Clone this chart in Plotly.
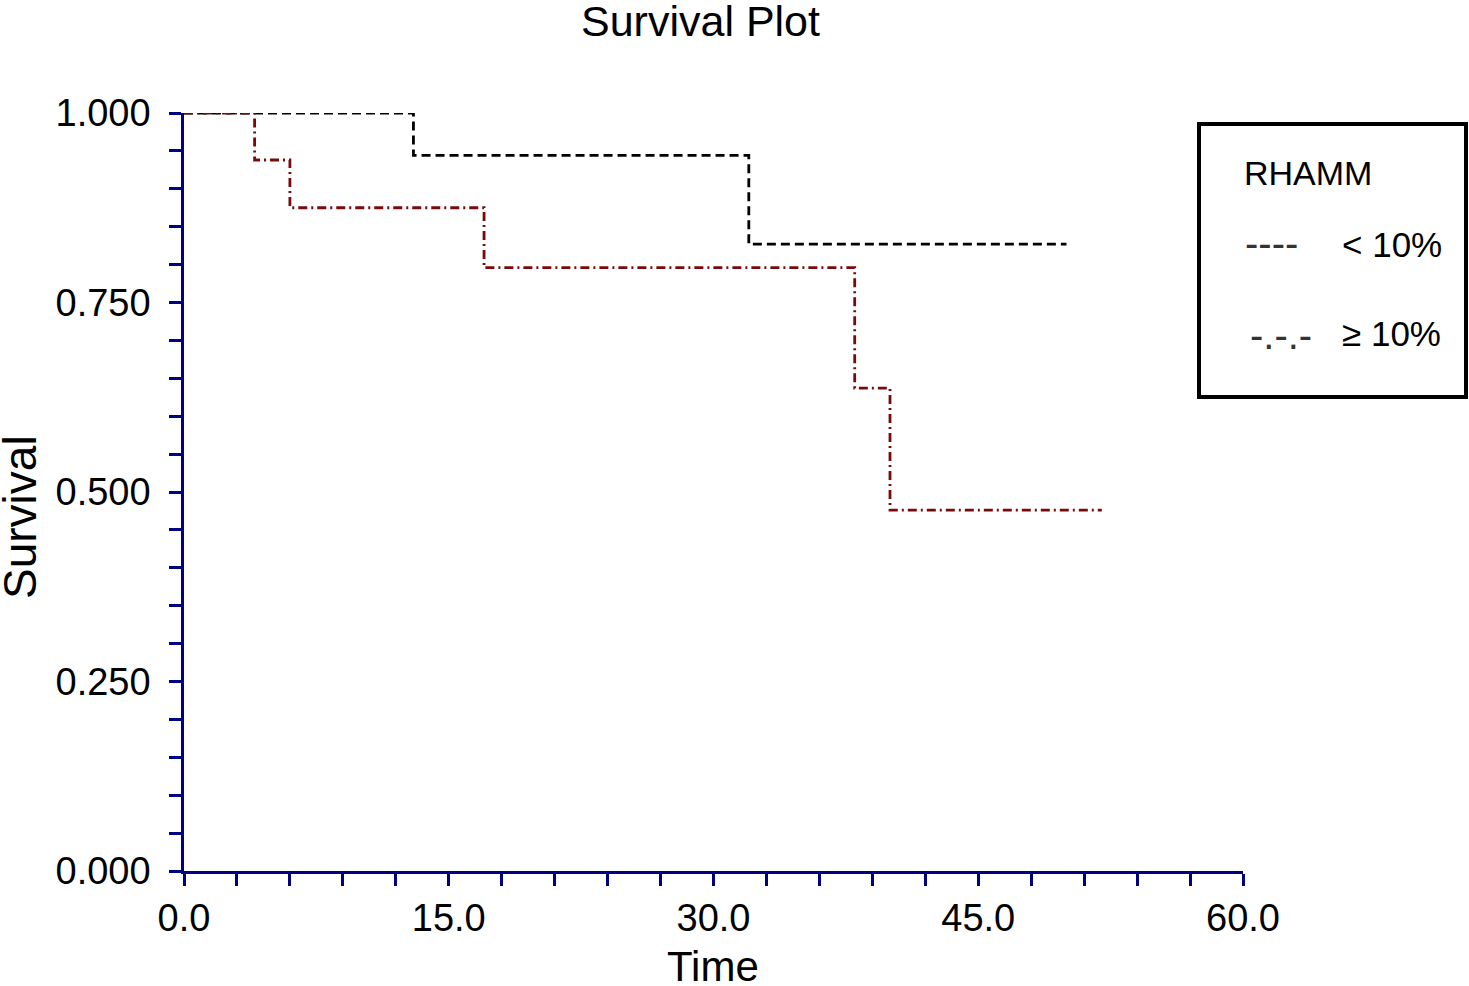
import plotly.graph_objects as go

# Data
low_time = [0, 13, 13, 32, 32, 50]
low_surv = [1.0, 1.0, 0.944, 0.944, 0.827, 0.827]
high_time = [0, 4, 4, 6, 6, 17, 17, 38, 38, 40, 40, 52]
high_surv = [1.0, 1.0, 0.938, 0.938, 0.875, 0.875, 0.796, 0.796, 0.637, 0.637, 0.476, 0.476]
x_ticks = [0, 15, 30, 45, 60]
x_labels = ["0.0", "15.0", "30.0", "45.0", "60.0"]
y_ticks = [0, 0.25, 0.5, 0.75, 1.0]
y_labels = ["0.000", "0.250", "0.500", "0.750", "1.000"]

W, H = 1469, 986
L, R, T, B = 184, 1243, 113, 871
FONT = "Liberation Sans, Arial, Helvetica, sans-serif"
NAVY = "#000080"

def px(x):
    return (x - L) / (R - L)

def py(y):
    return (B - y) / (B - T)

fig = go.Figure()
fig.add_trace(go.Scatter(x=low_time, y=low_surv, mode="lines",
                         line=dict(color="black", width=2.8, dash="9px,5px"),
                         showlegend=False, cliponaxis=False))
fig.add_trace(go.Scatter(x=high_time, y=high_surv, mode="lines",
                         line=dict(color="#7a0a0a", width=2.8, dash="9px,4px,2px,4px"),
                         showlegend=False, cliponaxis=False))

axis_common = dict(showgrid=False, zeroline=False, showline=True, linecolor=NAVY,
                   linewidth=2.5, ticks="outside", ticklen=12, tickwidth=2.5,
                   tickcolor=NAVY, tickfont=dict(family=FONT, size=38, color="black"))

fig.update_xaxes(range=[0, 60], tickvals=x_ticks, ticktext=x_labels,
                 minor=dict(dtick=3, ticks="outside", ticklen=12, tickwidth=2.5, tickcolor=NAVY),
                 ticklabelstandoff=0, **axis_common)
fig.update_yaxes(range=[0, 1], tickvals=y_ticks, ticktext=y_labels,
                 minor=dict(dtick=0.05, ticks="outside", ticklen=12, tickwidth=2.5, tickcolor=NAVY),
                 ticklabelstandoff=11, **axis_common)

ann = []
ann.append(dict(text="Survival Plot", x=px(700), y=py(21), xref="paper", yref="paper",
                showarrow=False, font=dict(family=FONT, size=43, color="black"),
                xanchor="center", yanchor="middle"))
ann.append(dict(text="Time", x=px(713), y=py(966), xref="paper", yref="paper",
                showarrow=False, font=dict(family=FONT, size=42, color="black"),
                xanchor="center", yanchor="middle"))
ann.append(dict(text="Survival", x=px(20), y=py(517), xref="paper", yref="paper",
                showarrow=False, textangle=-90, font=dict(family=FONT, size=46, color="black"),
                xanchor="center", yanchor="middle"))
# Legend content
ann.append(dict(text="RHAMM", x=px(1242), y=py(173), xref="paper", yref="paper",
                showarrow=False, font=dict(family=FONT, size=34, color="black"),
                xanchor="left", yanchor="middle"))
ann.append(dict(text="----", x=px(1243), y=py(243), xref="paper", yref="paper",
                showarrow=False, font=dict(family=FONT, size=40, color="#333"),
                xanchor="left", yanchor="middle"))
ann.append(dict(text="< 10%", x=px(1340), y=py(244), xref="paper", yref="paper",
                showarrow=False, font=dict(family=FONT, size=35, color="black"),
                xanchor="left", yanchor="middle"))
ann.append(dict(text="-.-.-", x=px(1248), y=py(335), xref="paper", yref="paper",
                showarrow=False, font=dict(family=FONT, size=40, color="#333"),
                xanchor="left", yanchor="middle"))
ann.append(dict(text="\u2265 10%", x=px(1340), y=py(333), xref="paper", yref="paper",
                showarrow=False, font=dict(family=FONT, size=35, color="black"),
                xanchor="left", yanchor="middle"))

shapes = [dict(type="rect", xref="paper", yref="paper",
               x0=px(1199), x1=px(1466), y0=py(124), y1=py(397),
               line=dict(color="black", width=4), fillcolor="rgba(0,0,0,0)")]

fig.update_layout(width=W, height=H, margin=dict(l=L, r=W - R, t=T, b=H - B),
                  plot_bgcolor="white", paper_bgcolor="white",
                  annotations=ann, shapes=shapes, showlegend=False)

fig.write_html("out.html", config={"displayModeBar": False},
               post_script="document.body.style.margin='0';document.body.style.overflow='hidden';")
